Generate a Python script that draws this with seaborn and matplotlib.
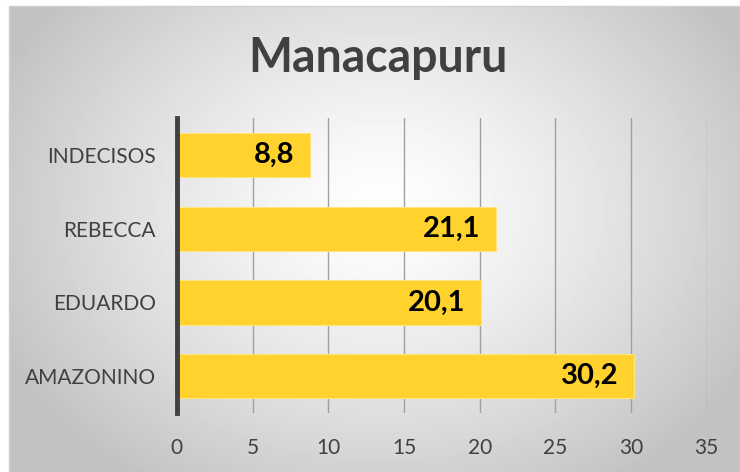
import numpy as np
import pandas as pd
import matplotlib.pyplot as plt
import seaborn as sns
from matplotlib.patches import Rectangle

# data
candidatos = ["INDECISOS", "REBECCA", "EDUARDO", "AMAZONINO"]
votos = [8.8, 21.1, 20.1, 30.2]
rotulos = ["8,8", "21,1", "20,1", "30,2"]

df = pd.DataFrame({"candidato": candidatos, "votos": votos})

sns.set_theme(style="white")
plt.rcParams['font.family'] = ['Lato', 'DejaVu Sans']

fig = plt.figure(figsize=(7.4, 4.72), dpi=100)

# radial gradient background
bg = fig.add_axes([0, 0, 1, 1], zorder=0)
yy, xx = np.mgrid[0:472, 0:740]
r = np.sqrt(((xx - 380) / 420.0) ** 2 + ((yy - 210) / 330.0) ** 2)
shade = np.clip(1 - 0.24 * r ** 1.3, 0.76, 1)
bg.imshow(shade, cmap="gray", vmin=0, vmax=1, aspect="auto", extent=[0, 740, 472, 0])
bg.add_patch(Rectangle((0, 0), 8, 472, color="white"))
bg.add_patch(Rectangle((0, 0), 740, 5, color="white"))
bg.plot([8.5, 8.5, 740], [472, 5.5, 5.5], color="#d0d0d0", lw=1)
bg.set_xlim(0, 740)
bg.set_ylim(472, 0)
bg.axis("off")

ax = fig.add_axes([0.239, 0.125, 0.716, 0.625], zorder=1)
ax.patch.set_alpha(0)

sns.barplot(data=df, x="votos", y="candidato", orient="h", color="#FFD22E",
            saturation=1, width=0.6, ax=ax, zorder=3,
            edgecolor="#FFE47F", linewidth=0.8)

for i, lab in enumerate(rotulos):
    ax.text(votos[i] - 1.05, i, lab, ha="right", va="center", fontsize=21,
            fontweight="bold", color="black", zorder=4)

ax.set_xlim(0, 35)
ax.set_ylim(3.5, -0.5)
ax.set_xticks(range(0, 36, 5))
ax.xaxis.grid(True, color="#a0a0a0", lw=1, zorder=0)
ax.set_axisbelow(True)
for s in ["top", "right", "bottom"]:
    ax.spines[s].set_visible(False)
ax.spines["left"].set_color("#404040")
ax.spines["left"].set_linewidth(3.5)
ax.spines["left"].set_zorder(5)
ax.tick_params(axis="both", length=0, labelsize=15, labelcolor="#404040")
ax.tick_params(axis="y", pad=15)
ax.tick_params(axis="x", pad=18)
ax.set_xlabel("")
ax.set_ylabel("")

fig.text(0.511, 0.878, "Manacapuru", ha="center", va="center", fontsize=33.5,
         fontweight="bold", color="#404040")

fig.savefig("out.png", dpi=100)
